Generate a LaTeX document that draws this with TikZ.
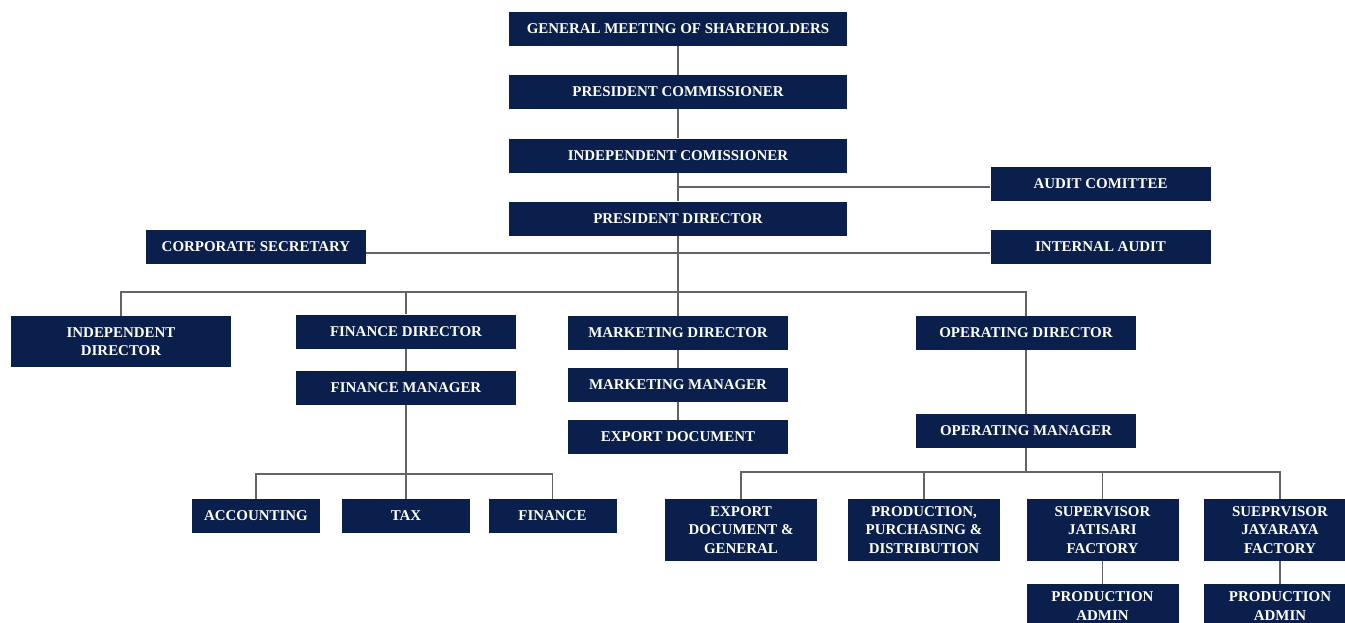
\documentclass[tikz,border=0pt]{standalone}
\usepackage{fontspec}
\setmainfont{Liberation Serif}
\definecolor{navy}{RGB}{10,31,75}
\definecolor{linkgray}{RGB}{100,100,100}
\tikzset{every picture/.style={line width=0.55pt}}

\begin{document}
\begin{tikzpicture}[x=0.75pt,y=0.75pt,yscale=-1,xscale=1,
    box/.style={fill=navy, text=white, font=\fontsize{11.2}{13.6}\selectfont\bfseries,
        align=center, inner sep=0pt, minimum width=165pt, minimum height=25.5pt},
    widebox/.style={box, minimum width=253.5pt},
    smallbox/.style={box, minimum width=96pt},
    tallbox/.style={box, minimum width=114pt, minimum height=46.5pt},
    adminbox/.style={box, minimum width=114pt, minimum height=33pt},
    link/.style={draw=linkgray, line width=1.1pt}]
            \clip (0,0) rectangle (1345,622);

            % Board and top management
            \node [widebox] (gms) at (678,29) {GENERAL MEETING OF SHAREHOLDERS};
            \node [widebox] (pc) at (678,92) {PRESIDENT COMMISSIONER};
            \node [widebox] (ic) at (678,155.5) {INDEPENDENT COMISSIONER};
            \node [widebox] (pd) at (678,218.5) {PRESIDENT DIRECTOR};
            \node [box] (ac) at (1100.5,183.5) {AUDIT COMITTEE};
            \node [box] (cs) at (256,246.5) {CORPORATE SECRETARY};
            \node [box] (ia) at (1100.5,246.5) {INTERNAL AUDIT};

            % Directors
            \node [box, minimum height=38.25pt] (idr) at (121,341.5) {INDEPENDENT\\DIRECTOR};
            \node [box] (fd) at (406,331.5) {FINANCE DIRECTOR};
            \node [box] (fm) at (406,388) {FINANCE MANAGER};
            \node [box] (md) at (678,333) {MARKETING DIRECTOR};
            \node [box] (mm) at (678,385) {MARKETING MANAGER};
            \node [box] (ed) at (678,437) {EXPORT DOCUMENT};
            \node [box] (od) at (1026,333) {OPERATING DIRECTOR};
            \node [box] (om) at (1026,431) {OPERATING MANAGER};

            % Finance staff
            \node [smallbox] (acc) at (256,516) {ACCOUNTING};
            \node [smallbox] (tax) at (406,516) {TAX};
            \node [smallbox] (fin) at (552.5,516) {FINANCE};

            % Operating staff
            \node [tallbox] (edg) at (741,530) {EXPORT\\DOCUMENT \&\\GENERAL};
            \node [tallbox] (ppd) at (924,530) {PRODUCTION,\\PURCHASING \&\\DISTRIBUTION};
            \node [tallbox] (sjt) at (1102.5,530) {SUPERVISOR\\JATISARI\\FACTORY};
            \node [tallbox] (sjy) at (1280,530) {SUEPRVISOR\\JAYARAYA\\FACTORY};
            \node [adminbox] (pa1) at (1102.5,606) {PRODUCTION\\ADMIN};
            \node [adminbox] (pa2) at (1280,606) {PRODUCTION\\ADMIN};

            % Bus lines
            \coordinate (bus) at (678,292);
            \coordinate (fbus) at (406,474);
            \coordinate (obus) at (1026,472);

            % Main spine
            \draw [link] (gms) -- (pc);
            \draw [link] (pc) -- (ic);
            \draw [link] (ic) -- (pd);
            \draw [link] (pd) -- (md);
            \draw [link] (md) -- (mm);
            \draw [link] (mm) -- (ed);
            \draw [link] ([yshift=2.6pt]ic.south |- ac.west) -- ([yshift=2.6pt]ac.west);
            \draw [link] ([yshift=4.9pt]cs.east) -- ([yshift=4.9pt]ia.west);
            \draw [link] (idr.north) -- (idr.north |- bus) -- (od.north |- bus) -- (od.north);
            \draw [link] (fd.north) -- (fd.north |- bus);

            % Finance branch
            \draw [link] (fd) -- (fm);
            \draw [link] (fm) -- (tax);
            \draw [link] (acc.north) |- (fbus) -| (fin.north);

            % Operating branch
            \draw [link] (od) -- (om);
            \draw [link] (om) -- (obus);
            \draw [link] (edg.north) |- (obus) -| (sjy.north);
            \draw [link] (ppd.north) -- (ppd.north |- obus);
            \draw [link] (sjt.north) -- (sjt.north |- obus);
            \draw [link] (sjt) -- (pa1);
            \draw [link] (sjy) -- (pa2);
\end{tikzpicture}
\end{document}
